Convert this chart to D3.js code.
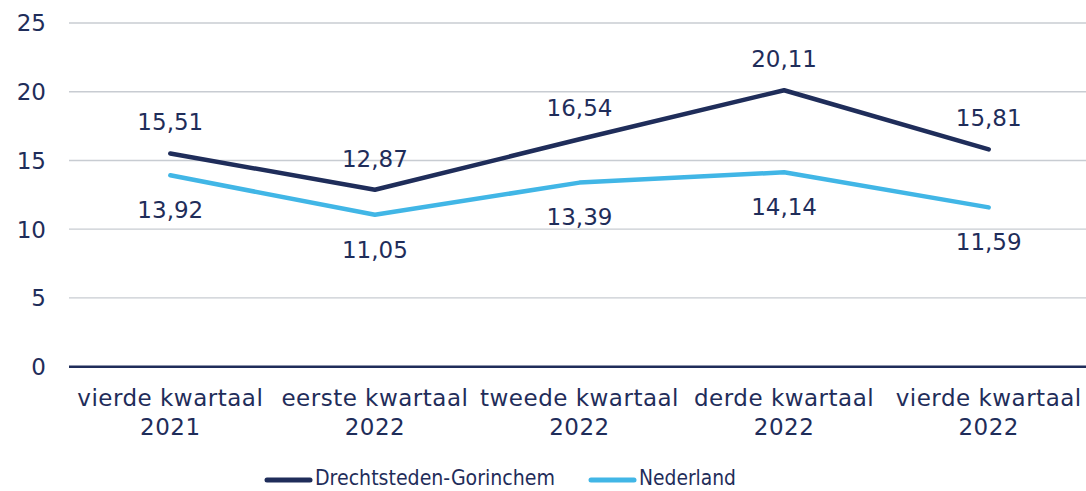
<!DOCTYPE html>
<meta charset="utf-8">
<script src="https://cdnjs.cloudflare.com/ajax/libs/d3/7.8.5/d3.min.js"></script>
<style>
  body { margin: 0; background: #fff; }
  svg text { font-family: "DejaVu Sans", Verdana, sans-serif; fill: #1f2d5a; }
</style>
<body>
<div id="chart"></div>
<script>
  var categories = [["vierde kwartaal", "2021"], ["eerste kwartaal", "2022"], ["tweede kwartaal", "2022"], ["derde kwartaal", "2022"], ["vierde kwartaal", "2022"]]
  var drechtsteden = [15.51, 12.87, 16.54, 20.11, 15.81]
  var nederland = [13.92, 11.05, 13.39, 14.14, 11.59]
  var yTicks = [0, 5, 10, 15, 20, 25]
  var seriesNames = ["Drechtsteden-Gorinchem", "Nederland"]

  var WIDTH = 1086, HEIGHT = 491
  var DARK = "#1f2d5a", LIGHT = "#41b6e6"
  var FS = 23

  var svg = d3.select("#chart").append("svg")
    .attr("width", WIDTH)
    .attr("height", HEIGHT)

  var x = d3.scaleBand()
    .domain(d3.range(categories.length))
    .range([68, 1091])

  var y = d3.scaleLinear()
    .domain([0, 25])
    .range([366.7, 23])

  var cx = function(d, i) { return x(i) + x.bandwidth() / 2 }

  // gridlines
  svg.selectAll(".grid")
    .data(yTicks)
    .enter().append("line")
    .attr("x1", 69)
    .attr("x2", WIDTH)
    .attr("y1", function(d) { return y(d) })
    .attr("y2", function(d) { return y(d) })
    .attr("stroke", function(d) { return d === 0 ? DARK : "#c8ccd2" })
    .attr("stroke-width", function(d) { return d === 0 ? 2.5 : 1.3 })

  svg.selectAll(".ytick")
    .data(yTicks)
    .enter().append("text")
    .attr("x", 46)
    .attr("y", function(d) { return y(d) })
    .attr("dy", "0.36em")
    .attr("text-anchor", "end")
    .attr("font-size", FS)
    .text(function(d) { return d })

  // category labels
  var cat = svg.selectAll(".cat")
    .data(categories)
    .enter().append("text")
    .attr("text-anchor", "middle")
    .attr("font-size", FS)
    .attr("letter-spacing", 0.5)
  cat.append("tspan")
    .attr("x", cx)
    .attr("y", 406)
    .text(function(d) { return d[0] })
  cat.append("tspan")
    .attr("x", cx)
    .attr("y", 435)
    .text(function(d) { return d[1] })

  var line = d3.line()
    .x(cx)
    .y(function(d) { return y(d) })

  var fmt = function(v) { return v.toFixed(2).replace(".", ",") }

  svg.append("path")
    .datum(nederland)
    .attr("d", line)
    .attr("fill", "none")
    .attr("stroke", LIGHT)
    .attr("stroke-width", 4.5)
    .attr("stroke-linecap", "round")
    .attr("stroke-linejoin", "round")

  svg.append("path")
    .datum(drechtsteden)
    .attr("d", line)
    .attr("fill", "none")
    .attr("stroke", DARK)
    .attr("stroke-width", 4.5)
    .attr("stroke-linecap", "round")
    .attr("stroke-linejoin", "round")

  svg.selectAll(".lblD")
    .data(drechtsteden)
    .enter().append("text")
    .attr("x", cx)
    .attr("y", function(d) { return y(d) - 31.5 })
    .attr("dy", "0.36em")
    .attr("text-anchor", "middle")
    .attr("font-size", FS)
    .text(fmt)

  svg.selectAll(".lblN")
    .data(nederland)
    .enter().append("text")
    .attr("x", cx)
    .attr("y", function(d) { return y(d) + 34.5 })
    .attr("dy", "0.36em")
    .attr("text-anchor", "middle")
    .attr("font-size", FS)
    .text(fmt)

  // legend
  var legendX = [267, 591]
  var legendColors = [DARK, LIGHT]
  var legendTextW = [240, 97]
  var leg = svg.selectAll(".leg")
    .data(seriesNames)
    .enter().append("g")
    .attr("transform", function(d, i) { return "translate(" + legendX[i] + ",480)" })
  leg.append("line")
    .attr("x1", 0).attr("x2", 43)
    .attr("stroke", function(d, i) { return legendColors[i] })
    .attr("stroke-width", 5)
    .attr("stroke-linecap", "round")
  leg.append("text")
    .attr("x", 48)
    .attr("y", -2.5)
    .attr("dy", "0.36em")
    .attr("font-size", 22)
    .attr("textLength", function(d, i) { return legendTextW[i] })
    .attr("lengthAdjust", "spacingAndGlyphs")
    .text(function(d) { return d })
</script>
</body>
